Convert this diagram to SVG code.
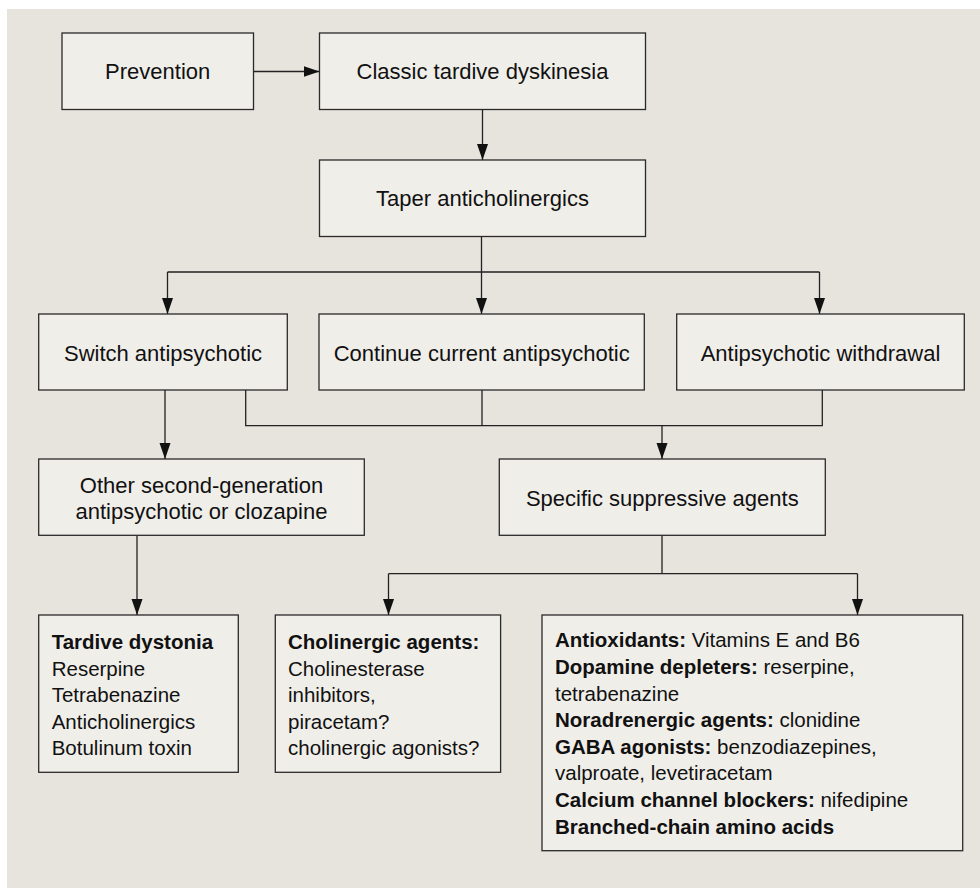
<svg xmlns="http://www.w3.org/2000/svg" width="980" height="888" viewBox="0 0 980 888">
<defs>
<marker id="arr" markerUnits="userSpaceOnUse" markerWidth="16" markerHeight="12" refX="16" refY="6" orient="auto">
<path d="M0,0.5 L16,6 L0,11.5 z" fill="#111"/>
</marker>
<style>
.box{fill:#F0EEE9;stroke:#2a2a2a;stroke-width:1.3}
.lbl{font-family:"Liberation Sans",Arial,Helvetica,sans-serif;font-size:22px;fill:#111;text-anchor:middle}
.lst{font-family:"Liberation Sans",Arial,Helvetica,sans-serif;font-size:20.5px;fill:#111}
.b{font-weight:bold}
.con{fill:none;stroke:#222;stroke-width:1.3}
</style>
</defs>
<rect x="7" y="9" width="973" height="879" fill="#E7E3DD"/>
<g id="connectors">
<path class="con" d="M253.5,71.5 H319.5" marker-end="url(#arr)"/>
<path class="con" d="M482.5,109.5 V160" marker-end="url(#arr)"/>
<path class="con" d="M481.5,236.5 V272 M167.5,272 H819.5"/>
<path class="con" d="M167.5,272 V314" marker-end="url(#arr)"/>
<path class="con" d="M481.5,272 V314" marker-end="url(#arr)"/>
<path class="con" d="M819.5,272 V314" marker-end="url(#arr)"/>
<path class="con" d="M165,390 V459" marker-end="url(#arr)"/>
<path class="con" d="M245.7,390 V425.7 H822.3 V390 M482,390 V425.7"/>
<path class="con" d="M662,425.7 V459" marker-end="url(#arr)"/>
<path class="con" d="M137,535.5 V615" marker-end="url(#arr)"/>
<path class="con" d="M662,535.5 V573.7 M388.5,573.7 H857.5"/>
<path class="con" d="M388.5,573.7 V615" marker-end="url(#arr)"/>
<path class="con" d="M857.5,573.7 V615" marker-end="url(#arr)"/>
</g>
<g id="prevention">
<rect class="box" x="62" y="33" width="191.5" height="76.5"/>
<text class="lbl" x="157.7" y="79.3">Prevention</text>
</g>
<g id="classic">
<rect class="box" x="319.5" y="33" width="326" height="76.5"/>
<text class="lbl" x="482.5" y="79.3">Classic tardive dyskinesia</text>
</g>
<g id="taper">
<rect class="box" x="319.5" y="160" width="326" height="76.5"/>
<text class="lbl" x="482.5" y="206">Taper anticholinergics</text>
</g>
<g id="switch">
<rect class="box" x="38.7" y="314" width="248.6" height="76"/>
<text class="lbl" x="163" y="361">Switch antipsychotic</text>
</g>
<g id="continue">
<rect class="box" x="319" y="314" width="325.3" height="76"/>
<text class="lbl" x="481.7" y="361">Continue current antipsychotic</text>
</g>
<g id="withdrawal">
<rect class="box" x="676.7" y="314" width="287.6" height="76"/>
<text class="lbl" x="820.5" y="361">Antipsychotic withdrawal</text>
</g>
<g id="other">
<rect class="box" x="38.7" y="459" width="325.6" height="76.3"/>
<text class="lbl" x="201.5" y="493">Other second-generation</text>
<text class="lbl" x="201.5" y="519.3">antipsychotic or clozapine</text>
</g>
<g id="specific">
<rect class="box" x="499.3" y="459" width="326" height="76.3"/>
<text class="lbl" x="662.3" y="505.7">Specific suppressive agents</text>
</g>
<g id="tardive">
<rect class="box" x="38.7" y="615" width="199.6" height="157.3"/>
<text class="lst b" x="51.7" y="649">Tardive dystonia</text>
<text class="lst" x="51.7" y="675.6">Reserpine</text>
<text class="lst" x="51.7" y="702.2">Tetrabenazine</text>
<text class="lst" x="51.7" y="728.8">Anticholinergics</text>
<text class="lst" x="51.7" y="755.4">Botulinum toxin</text>
</g>
<g id="cholinergic">
<rect class="box" x="275.3" y="615" width="225.3" height="157.3"/>
<text class="lst b" x="288" y="649">Cholinergic agents:</text>
<text class="lst" x="288" y="675.6">Cholinesterase</text>
<text class="lst" x="288" y="702.2">inhibitors,</text>
<text class="lst" x="288" y="728.8">piracetam?</text>
<text class="lst" x="288" y="755.4">cholinergic agonists?</text>
</g>
<g id="agents">
<rect class="box" x="542" y="615" width="420.7" height="235.7"/>
<text class="lst" x="555" y="647.3"><tspan class="b">Antioxidants:</tspan> Vitamins E and B6</text>
<text class="lst" x="555" y="673.9"><tspan class="b">Dopamine depleters:</tspan> reserpine,</text>
<text class="lst" x="555" y="700.5">tetrabenazine</text>
<text class="lst" x="555" y="727.1"><tspan class="b">Noradrenergic agents:</tspan> clonidine</text>
<text class="lst" x="555" y="753.7"><tspan class="b">GABA agonists:</tspan> benzodiazepines,</text>
<text class="lst" x="555" y="780.3">valproate, levetiracetam</text>
<text class="lst" x="555" y="806.9"><tspan class="b">Calcium channel blockers:</tspan> nifedipine</text>
<text class="lst" x="555" y="833.5"><tspan class="b">Branched-chain amino acids</tspan></text>
</g>
</svg>
